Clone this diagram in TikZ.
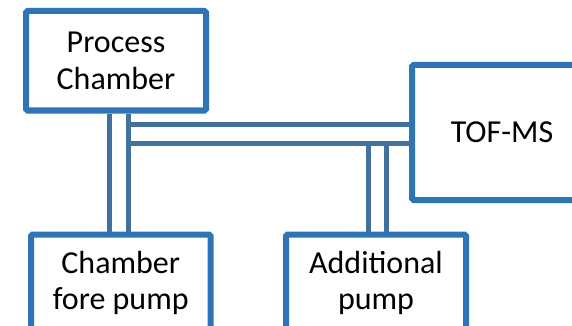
\documentclass[tikz,border=0pt]{standalone}
\usepackage{fontspec}
\setmainfont{Carlito}
\usetikzlibrary{backgrounds}
\definecolor{boxblue}{RGB}{46,117,182}
\definecolor{pipeblue}{RGB}{65,113,156}
\tikzset{
  unit/.style={draw=boxblue, line width=6pt, rounded corners=1.5pt, fill=white,
    inner sep=0pt, align=center, text=black,
    font=\fontsize{32}{36.5}\selectfont},
  pipe/.style={draw=pipeblue, line width=5pt},
}
\begin{document}
\begin{tikzpicture}[x=1pt, y=-1pt]
  \useasboundingbox (0,0) rectangle (572,326);
  \clip (0,0) rectangle (572,326);

  % vacuum units
  \node[unit, minimum width=180pt, minimum height=99.5pt] (chamber) at (116,60.75) {Process\\Chamber};
  \node[unit, minimum width=180pt, minimum height=135pt] (tof) at (502,132.5) {TOF-MS};
  \node[unit, minimum width=179.5pt, minimum height=97pt] (fore) at (120.75,283) {Chamber\\fore pump};
  \node[unit, minimum width=180pt, minimum height=97pt] (add) at (376,283) {Additional\\pump};

  % pipe attachment points
  \coordinate (cL) at ([xshift=-7pt]chamber.south);
  \coordinate (cR) at ([xshift=12pt]chamber.south);
  \coordinate (hT) at ([yshift=8pt]tof.west);
  \coordinate (hB) at ([yshift=-11pt]tof.west);
  \coordinate (aL) at ([xshift=-8pt]add.north);
  \coordinate (aR) at ([xshift=10pt]add.north);

  \begin{scope}[on background layer]
    % chamber to fore pump
    \draw[pipe] (cL) -- (cL |- fore.north);
    \draw[pipe] (cR) -- (cR |- fore.north);
    % chamber to TOF-MS
    \draw[pipe] (hT) -- (hT -| cR);
    \draw[pipe] (hB) -- (hB -| cR);
    % TOF line to additional pump
    \draw[pipe] (aL) -- (aL |- hB);
    \draw[pipe] (aR) -- (aR |- hB);
  \end{scope}
\end{tikzpicture}
\end{document}
